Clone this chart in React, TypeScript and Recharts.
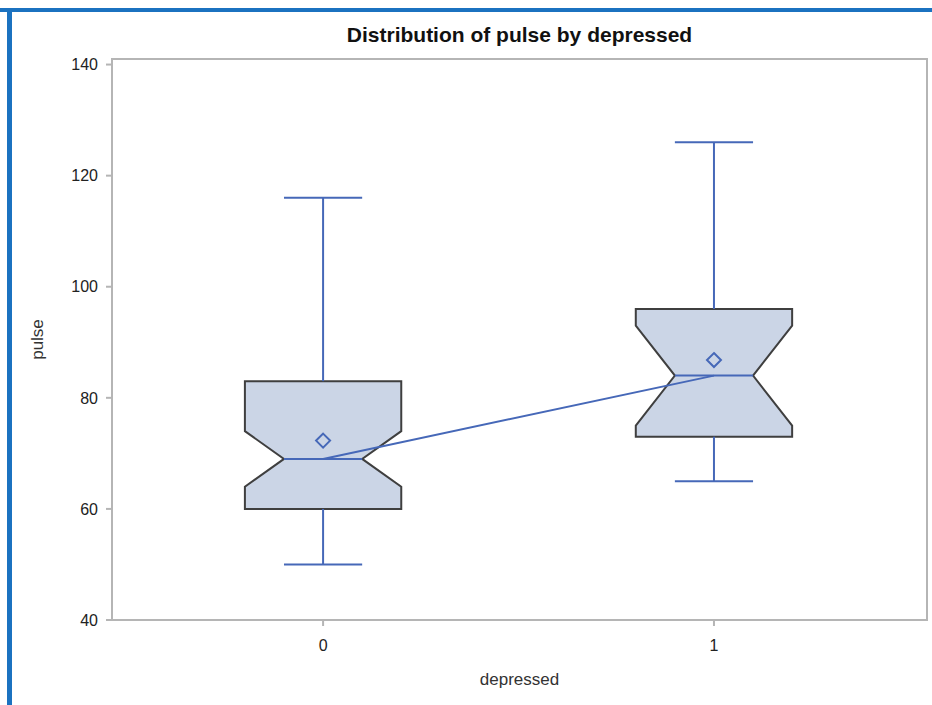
import React from 'react';
import {
  ComposedChart,
  XAxis,
  YAxis,
  Line,
  Scatter,
  ReferenceArea,
  ReferenceLine,
} from 'recharts';

// groups on the x axis
const groups = [0, 1];

// five-number summary + notch per group
const whiskerLow = [50, 65];
const q1 = [60, 73];
const notchLow = [64, 75];
const medians = [69, 84];
const notchHigh = [74, 93];
const q3 = [83, 96];
const whiskerHigh = [116, 126];
const means = [72.3, 86.8];

const yTicks = [40, 60, 80, 100, 120, 140];

const X_DOMAIN = [-0.54, 1.545];
const Y_DOMAIN = [40, 141];

const BOX_HALF = 0.2;
const NOTCH_HALF = 0.1;
const CAP_HALF = 0.1;

const FONT = '"Liberation Sans", Arial, sans-serif';
const BLUE = '#4668b8';
const BOX_FILL = '#cbd5e6';
const BOX_STROKE = '#3f3f3f';

const chartData = groups.map((g, i) => ({ x: g, median: medians[i], mean: means[i] }));

// box shape drawn inside the rect that recharts computes for q1..q3
const makeBoxShape = (i: number) => (props: any) => {
  const { x, y, width, height } = props;
  const top = q3[i];
  const bottom = q1[i];
  const toPx = (v: number) => y + (height * (top - v)) / (top - bottom);
  const yQ3 = toPx(q3[i]);
  const yQ1 = toPx(q1[i]);
  const yNH = toPx(notchHigh[i]);
  const yNL = toPx(notchLow[i]);
  const yMed = toPx(medians[i]);
  const inset = width * (1 - NOTCH_HALF / BOX_HALF) / 2;
  const xl = x;
  const xr = x + width;
  const pts = [
    [xl, yQ3],
    [xr, yQ3],
    [xr, yNH],
    [xr - inset, yMed],
    [xr, yNL],
    [xr, yQ1],
    [xl, yQ1],
    [xl, yNL],
    [xl + inset, yMed],
    [xl, yNH],
  ]
    .map((p) => p.join(','))
    .join(' ');
  return (
    <g>
      <polygon points={pts} fill={BOX_FILL} stroke={BOX_STROKE} strokeWidth={2} />
      <line x1={xl + inset} x2={xr - inset} y1={yMed} y2={yMed} stroke={BLUE} strokeWidth={2} />
    </g>
  );
};

const Diamond = (props: any) => {
  const { cx, cy } = props;
  const r = 7;
  return (
    <polygon
      points={`${cx},${cy - r} ${cx + r},${cy} ${cx},${cy + r} ${cx - r},${cy}`}
      fill="none"
      stroke={BLUE}
      strokeWidth={2}
    />
  );
};

const tickStyle = { fill: '#222', fontSize: 16, fontFamily: FONT };

export default function App() {
  return (
    <div style={{ position: 'absolute', left: 0, top: 0, width: 932, height: 705, background: '#fff', overflow: 'hidden' }}>
      {/* blue frame of the screenshot */}
      <div style={{ position: 'absolute', left: 0, top: 8, width: 932, height: 4, background: '#1b72c0' }} />
      <div style={{ position: 'absolute', left: 7, top: 8, width: 5, height: 697, background: '#1b72c0' }} />
      <div
        style={{
          position: 'absolute',
          left: 112,
          width: 815,
          top: 23,
          textAlign: 'center',
          fontFamily: FONT,
          fontWeight: 'bold',
          fontSize: 21,
          color: '#111',
        }}
      >
        Distribution of pulse by depressed
      </div>
      <ComposedChart
        width={932}
        height={705}
        data={chartData}
        margin={{ top: 59, right: 5, bottom: 10, left: 20 }}
        style={{ position: 'absolute', left: 0, top: 0 }}
      >
        <XAxis
          type="number"
          dataKey="x"
          domain={X_DOMAIN}
          ticks={groups}
          allowDataOverflow
          height={75}
          tickSize={6}
          tickMargin={14}
          stroke="#b5b5b5"
          strokeWidth={2}
          tick={tickStyle}
          label={{ value: 'depressed', position: 'insideBottom', offset: 10, style: { fill: '#333', fontSize: 17, fontFamily: FONT } }}
        />
        <YAxis
          type="number"
          domain={Y_DOMAIN}
          ticks={yTicks}
          allowDataOverflow
          width={92}
          tickSize={6}
          tickMargin={8}
          stroke="#b5b5b5"
          strokeWidth={2}
          tick={tickStyle}
          label={{
            value: 'pulse',
            angle: -90,
            position: 'insideLeft',
            offset: 17,
            style: { textAnchor: 'middle', fill: '#333', fontSize: 17, fontFamily: FONT },
          }}
        />
        {/* plot frame */}
        <ReferenceArea
          x1={X_DOMAIN[0]}
          x2={X_DOMAIN[1]}
          y1={Y_DOMAIN[0]}
          y2={Y_DOMAIN[1]}
          fill="#fff"
          fillOpacity={0}
          stroke="#b5b5b5"
          strokeWidth={2}
        />
        {groups.map((g, i) => (
          <ReferenceLine key={`wl-${g}`} segment={[{ x: g, y: whiskerLow[i] }, { x: g, y: q1[i] }]} stroke={BLUE} strokeWidth={2} />
        ))}
        {groups.map((g, i) => (
          <ReferenceLine key={`wh-${g}`} segment={[{ x: g, y: q3[i] }, { x: g, y: whiskerHigh[i] }]} stroke={BLUE} strokeWidth={2} />
        ))}
        {groups.map((g, i) => (
          <ReferenceLine
            key={`cl-${g}`}
            segment={[{ x: g - CAP_HALF, y: whiskerLow[i] }, { x: g + CAP_HALF, y: whiskerLow[i] }]}
            stroke={BLUE}
            strokeWidth={2}
          />
        ))}
        {groups.map((g, i) => (
          <ReferenceLine
            key={`ch-${g}`}
            segment={[{ x: g - CAP_HALF, y: whiskerHigh[i] }, { x: g + CAP_HALF, y: whiskerHigh[i] }]}
            stroke={BLUE}
            strokeWidth={2}
          />
        ))}
        {groups.map((g, i) => (
          <ReferenceArea key={`box-${g}`} x1={g - BOX_HALF} x2={g + BOX_HALF} y1={q1[i]} y2={q3[i]} shape={makeBoxShape(i)} />
        ))}
        <Line dataKey="median" stroke={BLUE} strokeWidth={2} dot={false} isAnimationActive={false} />
        <Scatter dataKey="mean" shape={<Diamond />} isAnimationActive={false} />
      </ComposedChart>
    </div>
  );
}
